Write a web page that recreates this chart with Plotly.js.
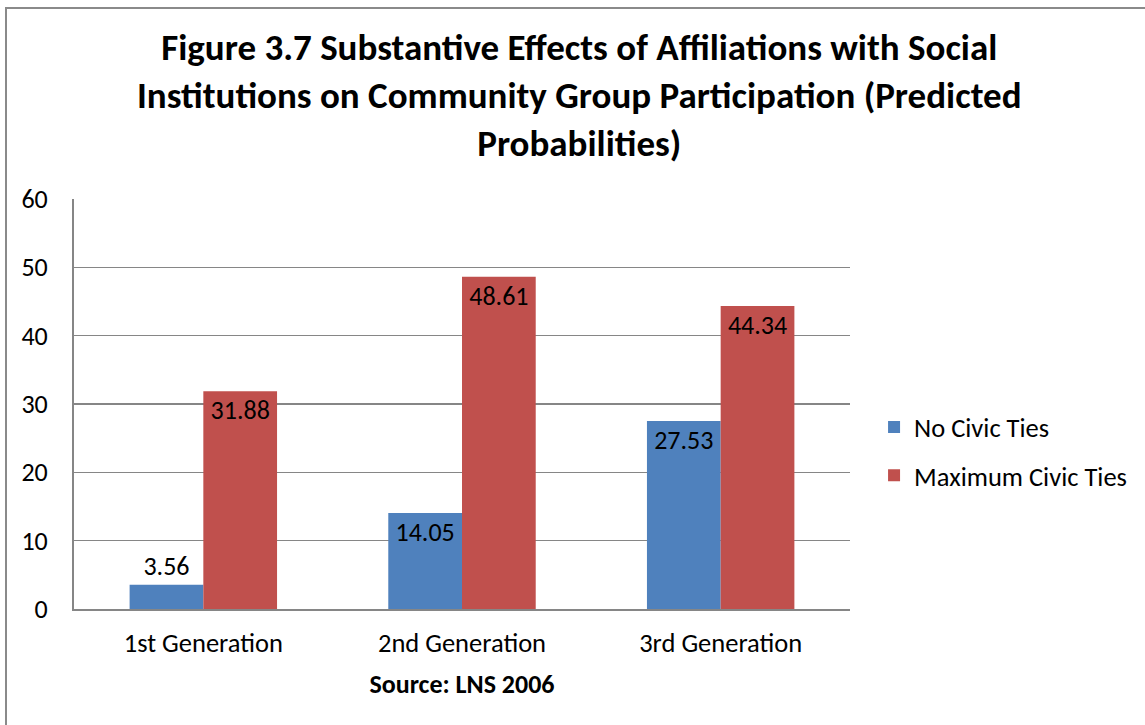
<!DOCTYPE html>
<html><head><meta charset="utf-8">
<script src="https://cdn.plot.ly/plotly-3.0.1.min.js"></script>
<style>
body{margin:0;padding:0;overflow:hidden;background:#fff;}
#wrap{position:relative;width:1145px;height:725px;overflow:hidden;}
#frame{position:absolute;left:5px;top:7px;width:1150px;height:730px;border:2px solid #8a8a8a;box-sizing:border-box;pointer-events:none;}
#chart{position:absolute;left:0;top:0;width:1145px;height:725px;}
</style></head>
<body>
<div id="wrap"><div id="chart"></div><div id="frame"></div></div>
<script>
const categories = ["1st Generation", "2nd Generation", "3rd Generation"];
const noCivicTies = [3.56, 14.05, 27.53];
const maxCivicTies = [31.88, 48.61, 44.34];
const seriesNames = ["No Civic Ties", "Maximum Civic Ties"];
const yTicks = [0, 10, 20, 30, 40, 50, 60];
const titleText = "<b>Figure 3.7 Substantive Effects of Affiliations with Social<br>Institutions on Community Group Participation (Predicted<br>Probabilities)</b>";
const sourceText = "<b>Source: LNS 2006</b>";

const FONT = "Carlito, Calibri, 'Open Sans', sans-serif";
const LBL = 26;

const traces = [
  {
    type: "bar", name: seriesNames[0], x: categories, y: noCivicTies,
    marker: {color: "#4F81BD"},
    text: noCivicTies.map(v => v.toFixed(2)),
    textposition: noCivicTies.map(v => v < 8 ? "outside" : "inside"),
    insidetextanchor: "end",
    textfont: {family: FONT, size: LBL, color: "#000"},
    outsidetextfont: {family: FONT, size: LBL, color: "#000"},
    insidetextfont: {family: FONT, size: LBL, color: "#000"},
    legendgroup: "a", cliponaxis: false, hoverinfo: "none"
  },
  {
    type: "bar", name: seriesNames[1], x: categories, y: maxCivicTies,
    marker: {color: "#C0504D"},
    text: maxCivicTies.map(v => v.toFixed(2)),
    textposition: "inside",
    insidetextanchor: "end",
    textfont: {family: FONT, size: LBL, color: "#000"},
    insidetextfont: {family: FONT, size: LBL, color: "#000"},
    legendgroup: "b", cliponaxis: false, hoverinfo: "none"
  }
];

const layout = {
  width: 1145, height: 725,
  margin: {l: 74, r: 295, t: 199, b: 116, pad: 0},
  paper_bgcolor: "#fff", plot_bgcolor: "#fff",
  font: {family: FONT, size: 26, color: "#000"},
  annotations: [{
    text: titleText, showarrow: false,
    xref: "paper", yref: "paper", x: 0.652, y: 1.43, xanchor: "center", yanchor: "top",
    align: "center", font: {family: FONT, size: 37, color: "#000"}
  }],
  barmode: "group", bargap: 0.43, bargroupgap: 0,
  xaxis: {
    showgrid: false, showline: true, linecolor: "#868686", linewidth: 2,
    ticks: "", ticklabelstandoff: 9, tickfont: {family: FONT, size: 26.5, color: "#000"},
    title: {text: sourceText, font: {family: FONT, size: 26, color: "#000"}, standoff: 17}
  },
  yaxis: {
    range: [0, 60], tickvals: yTicks, ticktext: yTicks.map(String),
    showgrid: true, gridcolor: "#868686", gridwidth: 1.3,
    showline: true, linecolor: "#868686", linewidth: 2,
    zeroline: false, ticks: "", ticklabelstandoff: 19,
    tickfont: {family: FONT, size: 26, color: "#000"}
  },
  legend: {
    x: 1.031, xanchor: "left", y: 0.385, yanchor: "middle",
    traceorder: "grouped", tracegroupgap: 11,
    font: {family: FONT, size: 26.5, color: "#000"},
    itemwidth: 30
  },
  showlegend: true
};

Plotly.newPlot("chart", traces, layout, {displayModeBar: false, staticPlot: true});
</script>
</body></html>
